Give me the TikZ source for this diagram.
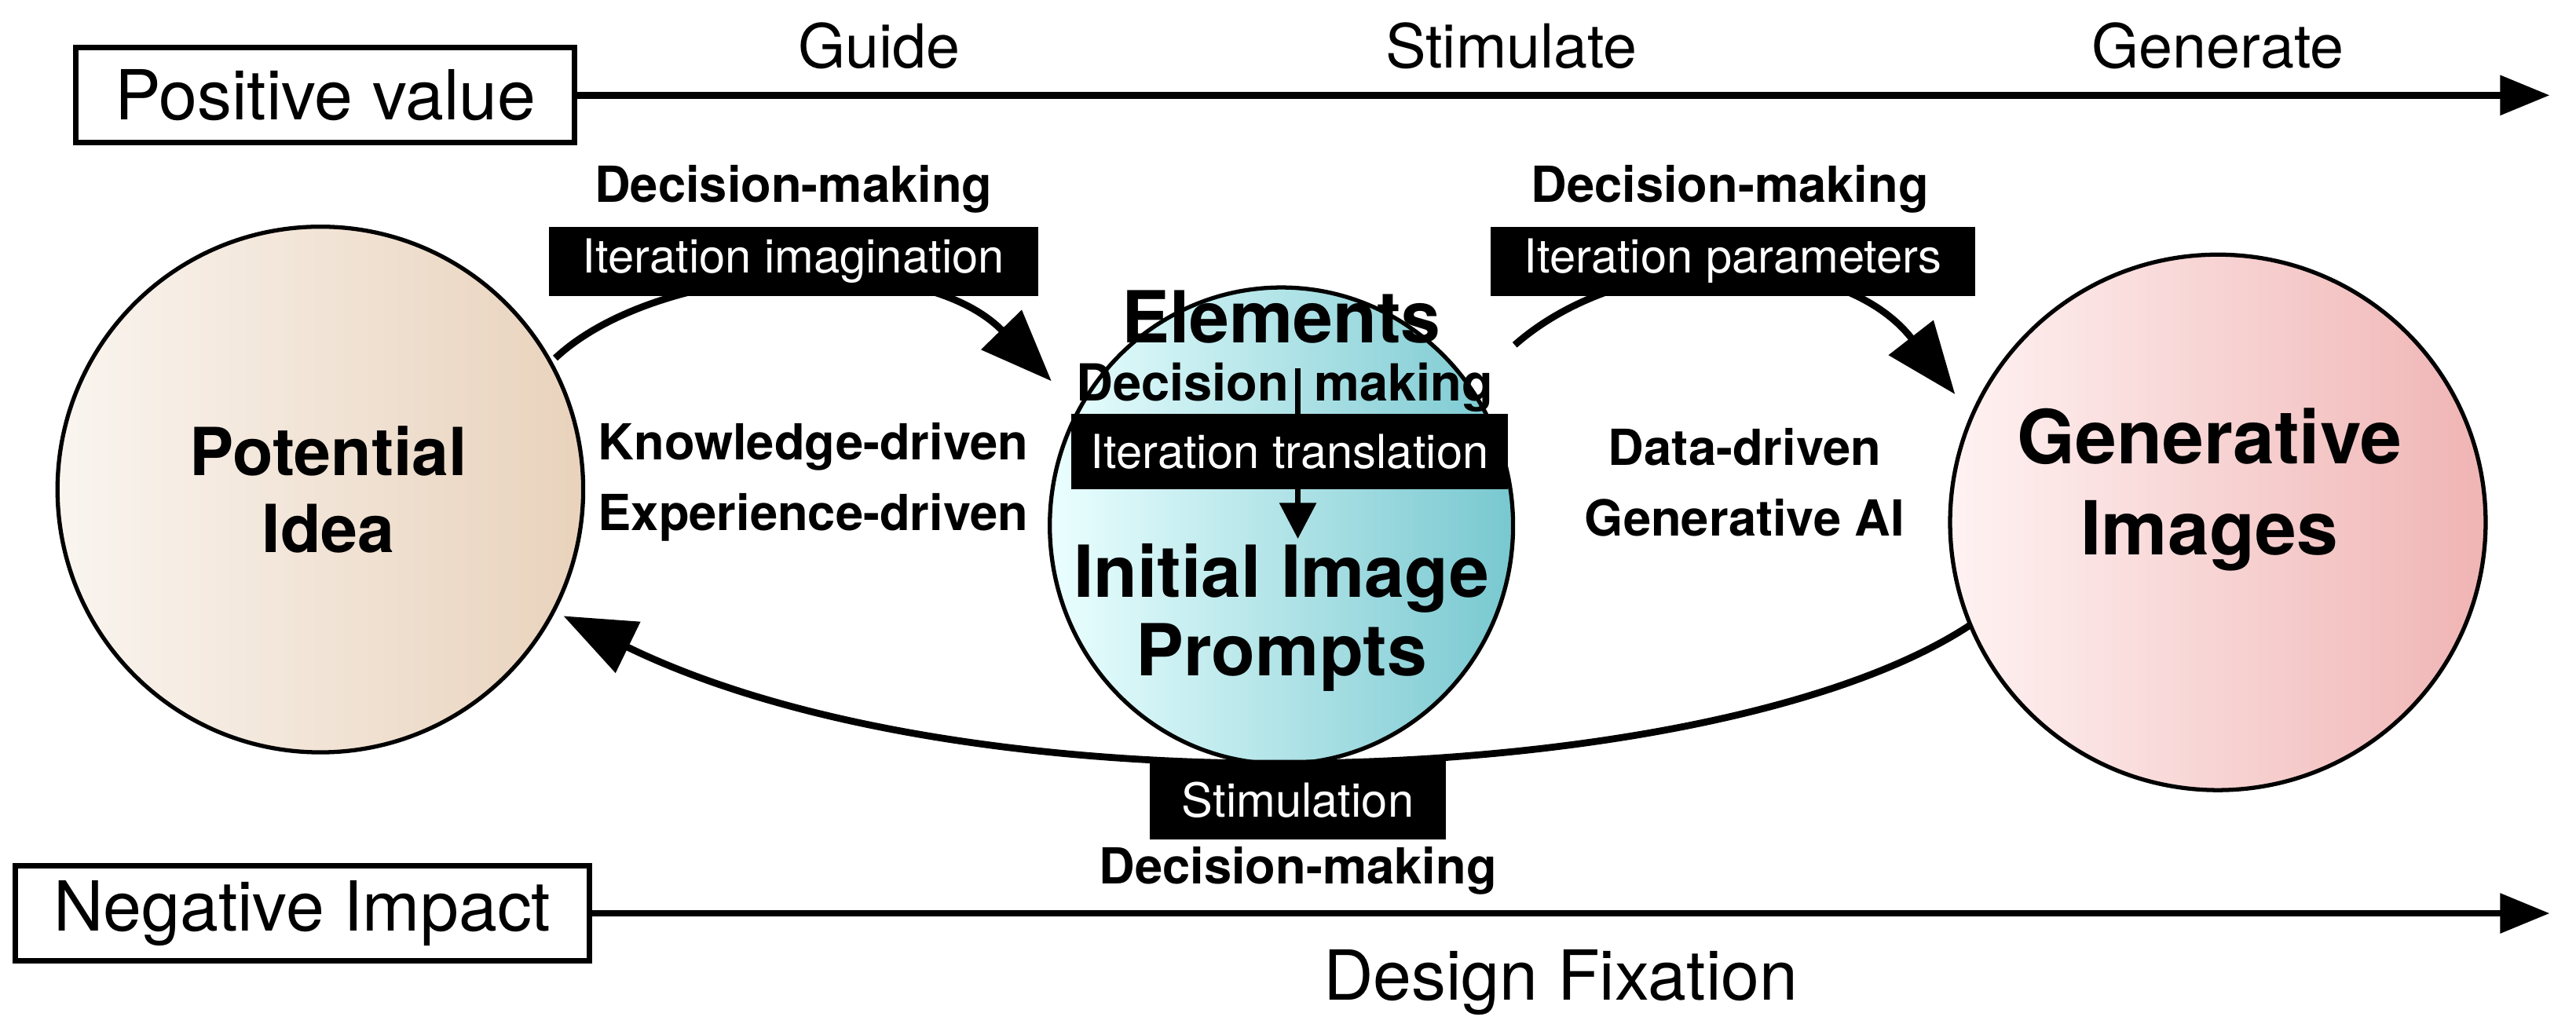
\documentclass[tikz,border=0pt]{standalone}
\usepackage{fontspec}
\setmainfont{TeX Gyre Heros}
\usetikzlibrary{arrows.meta}
\begin{document}
\begin{tikzpicture}[x=0.020918cm,y=-0.020918cm,
  bl/.style={font=\fontsize{18}{20}\selectfont\bfseries},
  wb/.style={fill=black,text=white,font=\fontsize{17}{19}\selectfont,inner sep=2pt,minimum height=42*0.020918cm},
  big/.style={font=\fontsize{25}{28}\selectfont},
  hb/.style={font=\fontsize{24}{28}\selectfont\bfseries,align=center},
  mb/.style={font=\fontsize{26}{29}\selectfont\bfseries},
  lab/.style={font=\fontsize{22}{26}\selectfont},
  box/.style={draw,line width=2pt,font=\fontsize{25}{28}\selectfont,minimum height=58*0.020918cm,inner xsep=14pt},
  arr/.style={line width=2.5pt,-{Triangle[length=18pt,width=14pt]}},
  carr/.style={line width=2.5pt,-{Triangle[length=26pt,width=20pt]}}]
\useasboundingbox (0,0) rectangle (1568,630);
% top axis
\node[box] (pv) at (198,58) {Positive value};
\coordinate (pe) at (1552,58);
\draw[arr] (pv.east) -- (pe);
\node[lab] (g1) at (535,28) {Guide};
\node[lab] (g2) at (920,28) {Stimulate};
\node[lab] (g3) at (1350,28) {Generate};
% bottom axis
\node[box] (ni) at (184,556) {Negative Impact};
\coordinate (ne) at (1552,556);
\draw[arr] (ni.east) -- (ne);
\node[big] (df) at (950,598) {Design Fixation};
% circles
\shade[left color=brown!8!white, right color=brown!35!white, draw=black, line width=1.5pt]
  (195,298) circle[radius=160];
\node[circle,minimum size=320*0.020918cm] (c1) at (195,298) {};
\node[hb] at (200,298) {Potential\\Idea};
\definecolor{tealr}{RGB}{120,200,208}
\shade[left color=cyan!8!white, right color=tealr, draw=black, line width=1.5pt]
  (780,320) ellipse[x radius=141,y radius=145];
\node[circle,minimum size=284*0.020918cm] (c2) at (780,320) {};
\definecolor{pinkr}{RGB}{240,180,180}
\shade[left color=red!5!white, right color=pinkr, draw=black, line width=1.5pt]
  (1350,318) circle[radius=163];
\node[circle,minimum size=326*0.020918cm] (c3) at (1350,318) {};
\node[hb,font=\fontsize{27}{33}\selectfont\bfseries] at (1345,298) {Generative\\Images};
% middle circle content
\node[mb] (el) at (780,193) {Elements};
\node[font=\fontsize{18.5}{21}\selectfont\bfseries] (dm) at (782,236) {Decision\hspace{0.25em}\hspace{0.25em}making};
\coordinate (a1) at (790,224);
\coordinate (a2) at (790,328);
\draw[line width=2pt,-{Triangle[length=13pt,width=13pt]}] (a1) -- (a2);
\node[wb,minimum width=266*0.020918cm,minimum height=46*0.020918cm] (it) at (785,275) {Iteration translation};
\node[mb] (ii) at (780,352) {Initial Image};
\node[mb] (pr) at (780,400) {Prompts};
% top-left arc
\coordinate (s1) at (338,218);
\coordinate (e1) at (640,232);
\draw[carr] (s1) .. controls (400,160) and (560,150) .. (e1);
\node[bl] (d1) at (483,115) {Decision-making};
\node[wb,minimum width=298*0.020918cm] (b1) at (483,159) {Iteration imagination};
% top-right arc
\coordinate (s2) at (922,210);
\coordinate (e2) at (1190,240);
\draw[carr] (s2) .. controls (990,150) and (1120,150) .. (e2);
\node[bl] (d2) at (1053,115) {Decision-making};
\node[wb,minimum width=295*0.020918cm] (b2) at (1055,159) {Iteration parameters};
% side labels
\node[bl] (k1) at (495,272) {Knowledge-driven};
\node[bl] (k2) at (495,315) {Experience-driven};
\node[bl] (k3) at (1062,272) {Data-driven};
\node[bl] (k4) at (1062,315) {Generative AI};
% bottom arc
\coordinate (s3) at (1200,380);
\coordinate (e3) at (343,375);
\draw[carr] (s3) .. controls (1050,480) and (600,500) .. (e3);
\node[wb,minimum width=180*0.020918cm,minimum height=48*0.020918cm] (b3) at (790,487) {Stimulation};
\node[bl] (d3) at (790,530) {Decision-making};
\end{tikzpicture}
\end{document}
